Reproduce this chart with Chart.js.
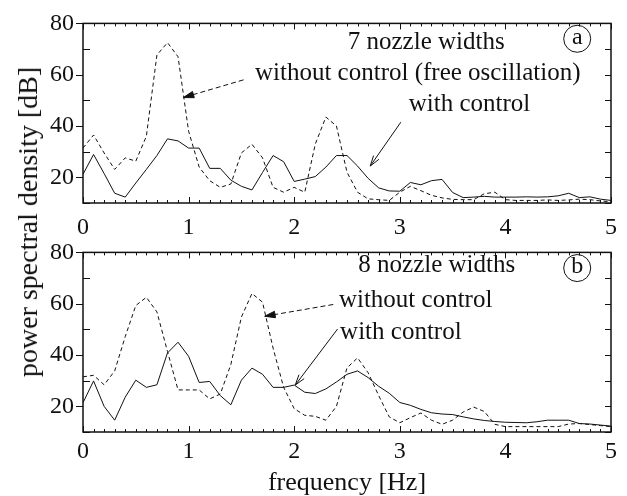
<!DOCTYPE html>
<html>
<head>
<meta charset="utf-8">
<script src="https://cdn.jsdelivr.net/npm/chart.js@4.4.1/dist/chart.umd.min.js"></script>
<style>
  body { margin: 0; background: #fff; }
  #wrap { position: relative; width: 627px; height: 496px; overflow: hidden; background: #fff; }
  .panel { position: absolute; left: 0; }
  #ytitle {
    position: absolute; left: 28px; top: 222px;
    transform: translate(-50%, -50%) rotate(-90deg);
    font: 28px "Liberation Serif", "Times New Roman", serif; color: #111; white-space: nowrap;
  }
</style>
</head>
<body>
<div id="wrap">
  <div class="panel" style="top:0px;width:627px;height:240px"><canvas id="top" width="627" height="240"></canvas></div>
  <div class="panel" style="top:229px;width:627px;height:267px"><canvas id="bottom" width="627" height="267"></canvas></div>
  <div id="ytitle">power spectral density [dB]</div>
</div>
<script>
// frequency grid [Hz]
const freq = [0, 0.1, 0.2, 0.3, 0.4, 0.5, 0.6, 0.7, 0.8, 0.9,
  1, 1.1, 1.2, 1.3, 1.4, 1.5, 1.6, 1.7, 1.8, 1.9,
  2, 2.1, 2.2, 2.3, 2.4, 2.5, 2.6, 2.7, 2.8, 2.9,
  3, 3.1, 3.2, 3.3, 3.4, 3.5, 3.6, 3.7, 3.8, 3.9,
  4, 4.1, 4.2, 4.3, 4.4, 4.5, 4.6, 4.7, 4.8, 4.9, 5];

// (a) 7 nozzle widths
const freeA = [31.4, 36.5, 29.5, 23.1, 27.6, 26.3, 36, 67.7, 72.5, 67,
  38, 24, 18.7, 16.1, 17.4, 29.5, 32.9, 27.6, 16.1, 14.2,
  16.1, 14.2, 33, 43.5, 40, 22, 14.2, 11.6, 11.3, 11,
  14.2, 16.5, 14.8, 13, 12, 11.4, 11.3, 11.3, 13.6, 14.2,
  11.3, 11, 11, 11, 11.2, 11, 11.2, 11.5, 11.3, 10.8, 10.5];
const controlA = [21.2, 28.9, 21.5, 13.8, 12.3, 17.8, 23.1, 28.5, 35, 34.2,
  31.4, 31.4, 23.5, 23.5, 18.9, 16.5, 15.1, 21.9, 28.5, 26.1,
  18.4, 19.3, 20.3, 24, 28.5, 28.5, 24.4, 19.6, 15.9, 14.7,
  14.6, 18, 17.1, 18.7, 19.2, 14.1, 12.1, 12.3, 12.6, 12.3,
  12.3, 12.3, 12.4, 12.3, 12.4, 12.8, 13.8, 12.1, 12.4, 11.5, 11];

// (b) 8 nozzle widths
const freeB = [31.5, 32.1, 28.4, 33.8, 47.2, 59.3, 62.5, 56.8, 41.4, 26.4,
  26.4, 26.4, 22.9, 24.8, 36.3, 54.8, 64, 60.6, 42.7, 27.4,
  19.1, 16.5, 16.1, 14.6, 20, 35, 38.9, 33.1, 24.2, 15.9,
  13.6, 15.6, 17.4, 14.6, 13, 14.6, 17.8, 19.7, 18, 13,
  12.1, 12.1, 12.1, 12.1, 12.1, 12.1, 13.1, 13.3, 12.9, 12.5, 12.1];
const controlB = [21.4, 29.9, 20, 14.6, 23.6, 30.2, 27.4, 28.4, 40.8, 45,
  39.5, 29.3, 29.7, 24.2, 20.6, 30.2, 34.9, 32.5, 27.4, 27.4,
  28.3, 25.5, 25, 26.8, 29.5, 32.5, 33.8, 31.2, 27.8, 25.1,
  21.5, 20.4, 18.8, 17.5, 17, 16.8, 15.9, 15.1, 14.5, 14.1,
  13.8, 13.7, 13.6, 14, 14.6, 14.6, 14.6, 13.3, 13.1, 12.7, 12.3];

// annotations, in data units [Hz, dB]
const notesA = {
  texts: [
    { x: 3.25, y: 72.4, text: '7 nozzle widths' },
    { x: 3.17, y: 60.4, text: 'without control (free oscillation)' },
    { x: 3.66, y: 48.3, text: 'with control' }
  ],
  arrows: [
    { from: [1.52, 58], to: [0.95, 51.1], dashed: true },
    { from: [3.01, 41.5], to: [2.72, 24.4], dashed: false }
  ],
  badge: { x: 4.68, y: 74, text: 'a' }
};
const notesB = {
  texts: [
    { x: 3.35, y: 74.9, text: '8 nozzle widths' },
    { x: 3.15, y: 61.4, text: 'without control' },
    { x: 3.01, y: 48.7, text: 'with control' }
  ],
  arrows: [
    { from: [2.37, 59.7], to: [1.72, 55.1], dashed: true },
    { from: [2.41, 50.1], to: [2.01, 28.3], dashed: false }
  ],
  badge: { x: 4.68, y: 73.9, text: 'b' }
};

const SERIF = '"Liberation Serif", "Times New Roman", serif';
const INK = '#111';
const isInt = v => Math.abs(v - Math.round(v)) < 1e-6;

// frame with inward ticks like the original plot
const frameTicks = {
  id: 'frameTicks',
  afterDraw(chart) {
    const { ctx, chartArea: a, scales: { x, y } } = chart;
    ctx.save();
    ctx.strokeStyle = INK;
    ctx.lineWidth = 1;
    ctx.setLineDash([]);
    const seg = (x1, y1, x2, y2) => { ctx.beginPath(); ctx.moveTo(x1, y1); ctx.lineTo(x2, y2); ctx.stroke(); };
    x.ticks.forEach(t => {
      const px = Math.round(x.getPixelForValue(t.value)) + 0.5;
      const len = isInt(t.value) ? 6 : 3;
      seg(px, a.bottom, px, a.bottom - len);
      seg(px, a.top, px, a.top + len);
    });
    y.ticks.forEach(t => {
      const py = Math.round(y.getPixelForValue(t.value)) + 0.5;
      if (t.value % 20 === 0) seg(a.left - 7, py, a.left, py);
      else seg(a.left, py, a.left + 7, py);
      seg(a.right, py, a.right - 6, py);
    });
    ctx.lineWidth = 1.5;
    ctx.strokeRect(a.left, a.top, a.width, a.height);
    ctx.restore();
  }
};

const notesPlugin = notes => ({
  id: 'notes',
  afterDraw(chart) {
    const { ctx, scales: { x, y } } = chart;
    const px = v => x.getPixelForValue(v);
    const py = v => y.getPixelForValue(v);
    ctx.save();
    ctx.fillStyle = INK;
    ctx.strokeStyle = INK;
    ctx.font = '25px ' + SERIF;
    ctx.textAlign = 'center';
    ctx.textBaseline = 'middle';
    notes.texts.forEach(t => ctx.fillText(t.text, px(t.x), py(t.y)));

    notes.arrows.forEach(ar => {
      const x1 = px(ar.from[0]), y1 = py(ar.from[1]);
      const x2 = px(ar.to[0]), y2 = py(ar.to[1]);
      const ang = Math.atan2(y2 - y1, x2 - x1);
      ctx.lineWidth = 1;
      ctx.setLineDash(ar.dashed ? [5, 3] : []);
      ctx.beginPath(); ctx.moveTo(x1, y1); ctx.lineTo(x2, y2); ctx.stroke();
      ctx.setLineDash([]);
      const hl = 11, hw = 0.3;
      const ax = x2 - hl * Math.cos(ang - hw), ay = y2 - hl * Math.sin(ang - hw);
      const bx = x2 - hl * Math.cos(ang + hw), by = y2 - hl * Math.sin(ang + hw);
      ctx.beginPath(); ctx.moveTo(ax, ay); ctx.lineTo(x2, y2); ctx.lineTo(bx, by);
      if (ar.dashed) { ctx.closePath(); ctx.fill(); }
      ctx.stroke();
    });

    const b = notes.badge;
    ctx.lineWidth = 1;
    ctx.beginPath(); ctx.arc(px(b.x), py(b.y), 13.5, 0, Math.PI * 2); ctx.stroke();
    ctx.font = '24px ' + SERIF;
    ctx.fillText(b.text, px(b.x), py(b.y) - 1);
    ctx.restore();
  }
});

const makePanel = (id, free, control, notes, withTitle, xPad, xHeight) => {
  const pts = vals => freq.map((f, i) => ({ x: f, y: vals[i] }));
  const chart = new Chart(document.getElementById(id), {
    type: 'line',
    data: {
      datasets: [
        { data: pts(free), borderColor: INK, borderWidth: 1, borderDash: [4, 3], pointRadius: 0, tension: 0 },
        { data: pts(control), borderColor: INK, borderWidth: 1, pointRadius: 0, tension: 0 }
      ]
    },
    options: {
      responsive: false,
      animation: false,
      devicePixelRatio: 1,
      layout: { padding: { top: 19, right: 16, left: 0, bottom: 0 } },
      plugins: { legend: { display: false }, tooltip: { enabled: false } },
      scales: {
        x: {
          type: 'linear', min: 0, max: 5,
          grid: { display: false, drawTicks: false },
          border: { display: false },
          ticks: {
            stepSize: 0.1, autoSkip: false, maxRotation: 0, padding: xPad,
            color: INK, font: { family: SERIF, size: 24 },
            callback: v => isInt(v) ? String(Math.round(v)) : ''
          },
          title: {
            display: withTitle, text: 'frequency [Hz]', color: INK,
            font: { family: SERIF, size: 26, lineHeight: 1 }, padding: { top: 4, bottom: 0 }
          },
          afterFit: s => { s.height = xHeight; }
        },
        y: {
          min: 10, max: 80,
          grid: { display: false, drawTicks: false },
          border: { display: false },
          ticks: {
            stepSize: 10, autoSkip: false, padding: 9,
            color: INK, font: { family: SERIF, size: 24 },
            callback: v => (v % 20 === 0) ? String(v) : ''
          },
          afterFit: s => { s.width = 83; }
        }
      }
    },
    plugins: [frameTicks, notesPlugin(notes)]
  });
  // keep the plot box top at 19px despite label overhang
  const extra = chart.chartArea.top - 19;
  if (Math.abs(extra) > 0.1) {
    chart.options.layout.padding.top = 19 - extra;
    chart.update();
  }
  return chart;
};

makePanel('top', freeA, controlA, notesA, false, 10, 37);
makePanel('bottom', freeB, controlB, notesB, true, 5, 64);
</script>
</body>
</html>
